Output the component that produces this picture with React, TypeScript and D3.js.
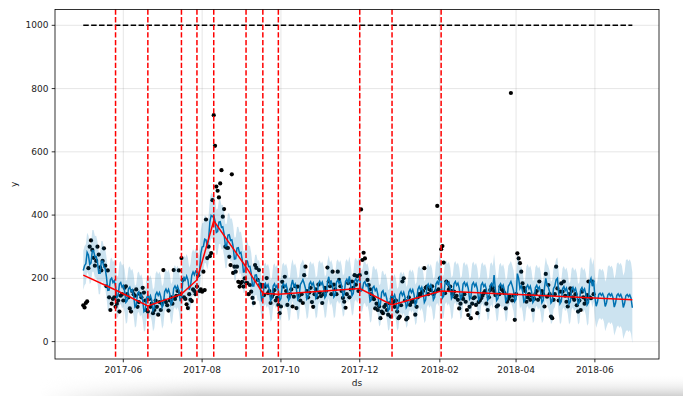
import React from 'react';
import * as d3 from 'd3';

const W = 683;
const H = 396;
const M = { left: 55, right: 24, top: 9.5, bottom: 37 };

// daily series, starting 2017-05-01
const startDate = '2017-05-01';
const cap = 1000;

// observed y, one line per month
const observed = [
  115, 108, 122, 127, 232, 300, 320, 290, 265, 240, 255, 300, 275, 235, 225, 255, 295, 240, 175, 225, 140, 100, 120, 135, 140, 110, 120, 130, 95, 145, 150,
  130, 170, 175, 150, 140, 105, 95, 160, 150, 145, 165, 110, 125, 150, 140, 170, 155, 130, 100, 95, 135, 110, 120, 90, 100, 130, 110, 85, 125, 100,
  120, 226, 130, 125, 115, 98, 130, 140, 120, 226, 135, 145, 160, 225, 150, 264, 195, 140, 135, 118, 106, 150, 132, 128, 165, 160, 150, 174, 210, 160, 165,
  158, 221, 163, 386, 264, 300, 270, 280, 447, 716, 619, 490, 477, 456, 500, 542, 395, 419, 300, 297, 296, 268, 242, 529, 217, 237, 221, 237, 189, 174, 185,
  189, 174, 200, 185, 185, 150, 179, 158, 138, 122, 242, 233, 195, 226, 180, 174, 179, 147, 174, 201, 153, 160, 122, 142, 150, 163, 130, 138, 116, 90,
  111, 189, 174, 205, 160, 116, 142, 150, 165, 111, 142, 175, 106, 174, 145, 130, 150, 122, 210, 237, 160, 140, 155, 170, 125, 110, 150, 165, 140, 180, 155,
  144, 122, 150, 170, 160, 234, 190, 175, 150, 221, 180, 165, 150, 221, 195, 175, 160, 138, 126, 107, 150, 185, 140, 165, 190, 170, 210, 180, 207, 160,
  210, 418, 258, 281, 263, 217, 195, 179, 165, 150, 140, 134, 105, 120, 100, 111, 74, 95, 90, 110, 116, 100, 85, 121, 79, 137, 125, 110, 130, 95, 74,
  79, 115, 190, 200, 130, 70, 75, 140, 116, 125, 130, 126, 85, 110, 140, 150, 147, 155, 160, 232, 170, 174, 150, 165, 163, 175, 150, 155, 160, 429, 165,
  200, 292, 302, 250, 153, 190, 185, 165, 174, 160, 150, 158, 140, 145, 132, 105, 120, 142, 135, 150, 126, 100, 84, 110, 74, 120, 137, 140,
  116, 90, 125, 130, 137, 145, 153, 160, 120, 100, 140, 163, 174, 170, 160, 147, 111, 115, 150, 174, 165, 160, 153, 105, 126, 135, 142, 786, 130, 145, 69,
  150, 279, 263, 248, 221, 184, 170, 160, 126, 140, 150, 132, 145, 100, 135, 150, 160, 132, 190, 142, 160, 150, 111, 214, 142, 179, 150, 79, 74, 132,
  150, 237, 168, 130, 158, 184, 158, 190, 145, 126, 111, 150, 168, 160, 140, 132, 150, 115, 95, 130, 100, 158, 140, 120, 132, 147, 190, 140, 137, 190, 150,
];

// forecast yhat, one line per week (Mon..Sun), through 2018-06-30
const yhat = [
  225, 240, 246, 282, 274, 244, 249,
  287, 287, 268, 269, 251, 216, 216,
  254, 254, 235, 231, 203, 162, 163,
  196, 201, 187, 193, 175, 139, 144,
  182, 187, 173, 178, 160, 124, 129,
  167, 172, 158, 164, 146, 110, 115,
  153, 158, 143, 149, 131, 95, 100,
  138, 146, 136, 145, 131, 98, 107,
  148, 156, 146, 155, 141, 108, 117,
  158, 166, 156, 165, 151, 118, 127,
  168, 176, 166, 175, 161, 128, 139,
  192, 203, 195, 207, 195, 164, 175,
  209, 220, 211, 223, 221, 202, 223,
  278, 299, 301, 324, 322, 302, 324,
  378, 399, 395, 400, 380, 345, 348,
  378, 379, 361, 363, 341, 302, 303,
  337, 338, 320, 322, 301, 261, 262,
  296, 297, 279, 282, 260, 220, 221,
  255, 255, 237, 238, 216, 176, 176,
  210, 211, 192, 194, 171, 131, 138,
  178, 184, 172, 180, 164, 129, 136,
  176, 183, 170, 178, 162, 129, 136,
  176, 183, 172, 180, 164, 131, 138,
  178, 195, 174, 182, 166, 133, 140,
  180, 187, 196, 184, 168, 135, 142,
  182, 189, 178, 186, 170, 137, 144,
  184, 191, 180, 188, 172, 139, 146,
  186, 205, 182, 190, 174, 141, 148,
  188, 195, 184, 192, 176, 143, 150,
  190, 197, 186, 206, 178, 145, 152,
  192, 199, 188, 196, 200, 160, 162,
  185, 190, 176, 181, 163, 127, 132,
  170, 175, 161, 167, 149, 113, 118,
  156, 161, 146, 152, 134, 98, 103,
  141, 149, 138, 148, 133, 100, 108,
  149, 157, 146, 156, 141, 108, 116,
  157, 165, 155, 164, 149, 116, 124,
  165, 174, 163, 172, 157, 124, 132,
  174, 182, 171, 180, 165, 132, 140,
  182, 190, 179, 208, 192, 138, 144,
  184, 191, 179, 187, 171, 136, 143,
  183, 190, 178, 185, 169, 135, 142,
  182, 188, 176, 184, 168, 134, 140,
  180, 187, 175, 183, 167, 132, 139,
  179, 186, 174, 181, 165, 131, 138,
  178, 184, 172, 210, 164, 130, 136,
  176, 183, 171, 179, 163, 128, 135,
  175, 182, 190, 177, 161, 127, 134,
  215, 200, 168, 176, 160, 126, 132,
  172, 179, 167, 175, 158, 124, 131,
  171, 178, 166, 173, 157, 123, 130,
  170, 200, 180, 172, 156, 122, 128,
  168, 175, 195, 200, 154, 120, 127,
  167, 174, 161, 169, 153, 119, 126,
  166, 172, 160, 168, 152, 118, 124,
  164, 171, 159, 167, 150, 116, 123,
  190, 200, 175, 195, 142, 112, 125,
  149, 153, 146, 152, 141, 111, 123,
  147, 152, 145, 151, 139, 109, 122,
  146, 151, 143, 149, 138, 108, 121,
  145, 149, 142, 148, 137, 107,
];

// half width of the uncertainty band, per week
const bandHalf = [
  62, 66, 64, 65, 68, 66, 64, 65, 67, 63, 66, 70, 72, 75, 72, 70, 68, 66, 65, 64,
  66, 65, 67, 66, 64, 65, 66, 68, 65, 64, 66, 67, 65, 64, 66, 65, 64, 66, 65, 67,
  66, 65, 64, 66, 65, 67, 66, 65, 64, 66, 65, 67, 66, 65, 64, 66, 68, 78, 90, 100, 112,
];

const changepoints = [
  '2017-05-26', '2017-06-20', '2017-07-16', '2017-07-28', '2017-08-10', '2017-09-04',
  '2017-09-17', '2017-09-29', '2017-12-01', '2017-12-26', '2018-02-02',
];
const trendDates = ['2017-05-01', ...changepoints, '2018-06-30'];
const trendValues = [210, 163, 113, 150, 195, 382, 236, 153, 150, 168, 116, 160, 132];

const xTicks = ['2017-06', '2017-08', '2017-10', '2017-12', '2018-02', '2018-04', '2018-06'];
const yTicks = [0, 200, 400, 600, 800, 1000];
const yDomain = [-55, 1050];

const BLUE = '#0072B2';
const FONT = 'DejaVu Sans, sans-serif';

export default function App() {
  const parseDay = d3.timeParse('%Y-%m-%d');
  const parseMonth = d3.timeParse('%Y-%m');
  const t0 = parseDay(startDate) as Date;
  const dates = yhat.map((_, i) => d3.timeDay.offset(t0, i));
  const first = dates[0];
  const last = dates[dates.length - 1];
  const pad = (+last - +first) * 0.05;

  const x = d3.scaleTime()
    .domain([new Date(+first - pad), new Date(+last + pad)])
    .range([M.left + 0.8, W - M.right + 0.8]);
  const y = d3.scaleLinear().domain(yDomain).range([H - M.bottom, M.top]);

  const x0 = M.left, x1 = W - M.right, y0 = M.top, y1 = H - M.bottom;

  const half = (i: number) => bandHalf[Math.min(Math.floor(i / 7), bandHalf.length - 1)];

  const band = d3.area<number>()
    .x((_, i) => x(dates[i]))
    .y0((d, i) => y(d - half(i)))
    .y1((d, i) => y(d + half(i)));

  const line = d3.line<number>()
    .x((_, i) => x(dates[i]))
    .y(d => y(d));

  const trendLine = d3.line<number>()
    .x((_, i) => x(parseDay(trendDates[i]) as Date))
    .y(d => y(d));

  const fmt = d3.timeFormat('%Y-%m');

  return (
    <div style={{ position: 'fixed', left: 0, top: 0 }}>
      <svg width={W} height={H} style={{ display: 'block', background: '#fff' }}>
        <defs>
          <linearGradient id="shadeV" x1="0" y1="0" x2="0" y2="1">
            <stop offset="0" stopColor="#fff" stopOpacity="0" />
            <stop offset="1" stopColor="#d0d0d0" stopOpacity="1" />
          </linearGradient>
          <linearGradient id="shadeH" x1="0" y1="0" x2="1" y2="0">
            <stop offset="0" stopColor="#fff" stopOpacity="0" />
            <stop offset="0.25" stopColor="#fff" stopOpacity="1" />
            <stop offset="1" stopColor="#fff" stopOpacity="1" />
          </linearGradient>
          <mask id="shadeMask">
            <rect x={40} y={374} width={643} height={22} fill="url(#shadeH)" />
          </mask>
        </defs>
        <rect x={40} y={374} width={643} height={22} fill="url(#shadeV)" mask="url(#shadeMask)" />

        {/* grid */}
        <g stroke="#808080" strokeOpacity={0.2} strokeWidth={1}>
          {yTicks.map(v => (
            <line key={'gy' + v} x1={x0} x2={x1} y1={y(v)} y2={y(v)} />
          ))}
          {xTicks.map(t => {
            const xv = x(parseMonth(t) as Date);
            return <line key={'gx' + t} x1={xv} x2={xv} y1={y0} y2={y1} />;
          })}
        </g>

        {/* observed points */}
        <g fill="#000">
          {observed.map((v, i) => (
            <circle key={i} cx={x(dates[i])} cy={y(v)} r={2.1} />
          ))}
        </g>

        {/* forecast */}
        <path d={line(yhat) || ''} fill="none" stroke={BLUE} strokeWidth={1.5} />
        <line x1={x(first)} x2={x(last)} y1={y(cap)} y2={y(cap)} stroke="#000" strokeWidth={1.5} strokeDasharray="5.5,2.4" />
        <path d={band(yhat) || ''} fill={BLUE} fillOpacity={0.2} stroke="none" />

        {/* trend + changepoints */}
        <path d={trendLine(trendValues) || ''} fill="none" stroke="#ff0000" strokeWidth={1.5} />
        {changepoints.map(c => {
          const xv = x(parseDay(c) as Date);
          return <line key={c} x1={xv} x2={xv} y1={y0} y2={y1} stroke="#ff0000" strokeWidth={1.5} strokeDasharray="5.3,2.3" />;
        })}

        {/* axes frame */}
        <rect x={x0} y={y0} width={x1 - x0} height={y1 - y0} fill="none" stroke="#000" strokeWidth={0.8} />

        {/* ticks and labels */}
        <g fontFamily={FONT} fontSize={9} fill="#222">
          {yTicks.map(v => (
            <g key={'ty' + v}>
              <line x1={x0 - 3.3} x2={x0} y1={y(v)} y2={y(v)} stroke="#000" strokeWidth={0.8} />
              <text x={x0 - 6.5} y={y(v)} dy="0.35em" textAnchor="end">{v}</text>
            </g>
          ))}
          {xTicks.map(t => {
            const d = parseMonth(t) as Date;
            const xv = x(d);
            return (
              <g key={'tx' + t}>
                <line x1={xv} x2={xv} y1={y1} y2={y1 + 3.3} stroke="#000" strokeWidth={0.8} />
                <text x={xv} y={373} textAnchor="middle">{fmt(d)}</text>
              </g>
            );
          })}
          <text x={(x0 + x1) / 2} y={386} textAnchor="middle">ds</text>
          <text transform={`translate(17,${(y0 + y1) / 2}) rotate(-90)`} textAnchor="middle">y</text>
        </g>
      </svg>
    </div>
  );
}
